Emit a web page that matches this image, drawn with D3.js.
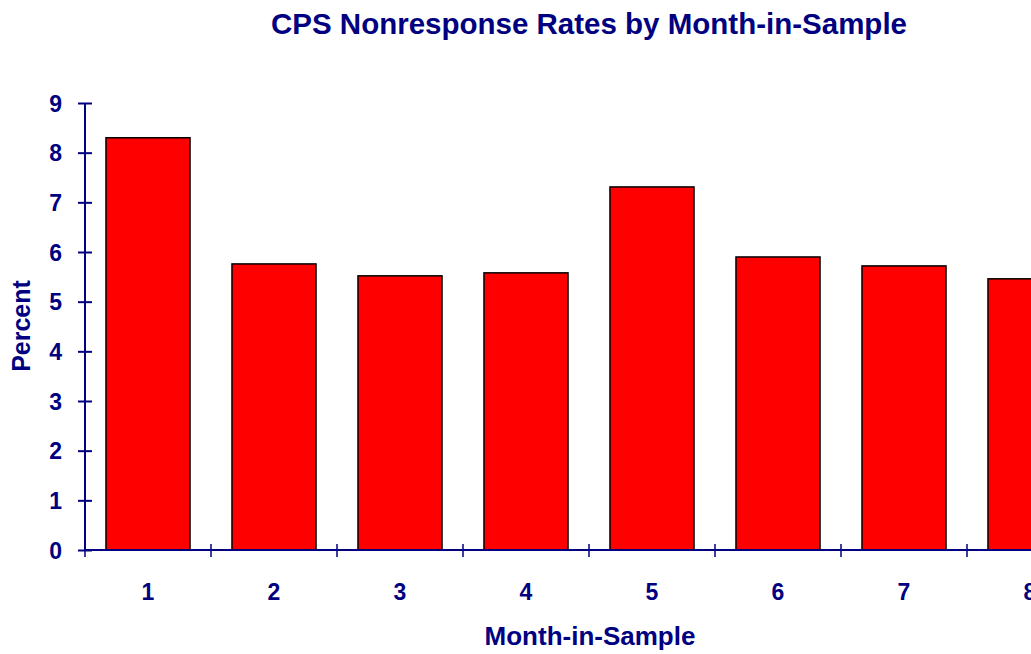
<!DOCTYPE html>
<html>
<head>
<meta charset="utf-8">
<script src="https://cdn.jsdelivr.net/npm/d3@7"></script>
<style>
  body { margin: 0; background: #fff; }
  svg { display: block; }
</style>
</head>
<body>
<div class="chart"></div>
<script>
const months = ["1", "2", "3", "4", "5", "6", "7", "8"];
const rates = [8.3, 5.76, 5.52, 5.58, 7.31, 5.9, 5.72, 5.46];
const yTicks = [0, 1, 2, 3, 4, 5, 6, 7, 8, 9];

const width = 1031;
const height = 654;
const navy = "#000080";
const font = "Arial, 'Liberation Sans', sans-serif";

const svg = d3
  .select(".chart")
  .append("svg")
  .attr("width", width)
  .attr("height", height);

// the plot runs past the right edge, like the original
const x = d3
  .scaleBand()
  .domain(months)
  .range([85, 85 + 8 * 126])
  .paddingInner(0.333)
  .paddingOuter(0.1665);

const y = d3.scaleLinear().domain([0, 9]).range([550, 103]);

svg
  .append("g")
  .selectAll("rect")
  .data(rates)
  .enter()
  .append("rect")
  .attr("x", (d, i) => x(months[i]))
  .attr("y", d => y(d))
  .attr("width", x.bandwidth())
  .attr("height", d => y(0) - y(d))
  .attr("fill", "#ff0000")
  .attr("stroke", "#000")
  .attr("stroke-width", 1.5);

// y axis
const yAxis = svg
  .append("g")
  .attr("transform", "translate(85,0)")
  .call(d3.axisLeft(y).tickValues(yTicks).tickSize(7).tickPadding(16));
yAxis.select(".domain").attr("stroke", navy).attr("stroke-width", 2).attr("d", "M0,103V550");
yAxis.selectAll(".tick line").attr("stroke", navy).attr("stroke-width", 2).attr("x2", -7).attr("x1", 7);
yAxis
  .selectAll(".tick text")
  .attr("fill", navy)
  .attr("dy", "0.36em")
  .style("font-family", font)
  .style("font-weight", "bold")
  .style("font-size", "23px");

// x axis, ticks between categories
const xAxis = svg.append("g").attr("transform", "translate(0,550)");
xAxis
  .append("line")
  .attr("x1", 85)
  .attr("x2", width)
  .attr("stroke", navy)
  .attr("stroke-width", 2);
xAxis
  .selectAll(".sep")
  .data(d3.range(9))
  .enter()
  .append("line")
  .attr("x1", i => 85 + (i * x.step()))
  .attr("x2", i => 85 + (i * x.step()))
  .attr("y1", -6)
  .attr("y2", 7)
  .attr("stroke", navy)
  .attr("stroke-width", 1.5);
xAxis
  .selectAll("text")
  .data(months)
  .enter()
  .append("text")
  .attr("x", d => x(d) + x.bandwidth() / 2)
  .attr("y", 50)
  .attr("text-anchor", "middle")
  .attr("fill", navy)
  .style("font-family", font)
  .style("font-weight", "bold")
  .style("font-size", "23px")
  .text(d => d);

// titles
svg
  .append("text")
  .attr("x", 589)
  .attr("y", 34)
  .attr("text-anchor", "middle")
  .attr("fill", navy)
  .style("font-family", font)
  .style("font-weight", "bold")
  .style("font-size", "29.5px")
  .text("CPS Nonresponse Rates by Month-in-Sample");

svg
  .append("text")
  .attr("x", 590)
  .attr("y", 645)
  .attr("text-anchor", "middle")
  .attr("fill", navy)
  .style("font-family", font)
  .style("font-weight", "bold")
  .style("font-size", "26px")
  .text("Month-in-Sample");

svg
  .append("text")
  .attr("transform", "translate(30,326) rotate(-90)")
  .attr("text-anchor", "middle")
  .attr("fill", navy)
  .style("font-family", font)
  .style("font-weight", "bold")
  .style("font-size", "25px")
  .text("Percent");
</script>
</body>
</html>
